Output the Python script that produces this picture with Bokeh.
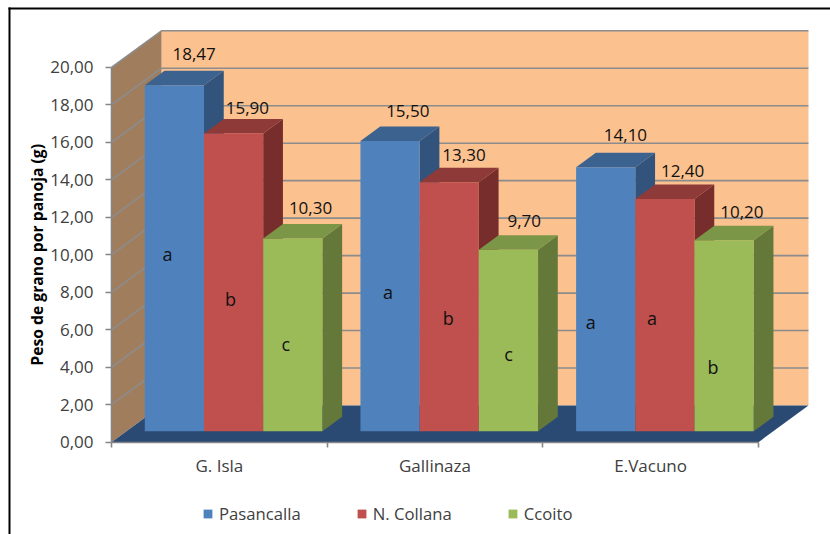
import math

from bokeh.core.properties import value
from bokeh.embed import file_html
from bokeh.models import BoxAnnotation, FixedTicker, Legend, LegendItem, LinearAxis, Range1d
from bokeh.plotting import figure
from bokeh.resources import INLINE

# Chart data
categories = ["G. Isla", "Gallinaza", "E.Vacuno"]
series_names = ["Pasancalla", "N. Collana", "Ccoito"]
y_title = "Peso de grano por panoja (g)"
pasancalla = [18.47, 15.50, 14.10]
n_collana = [15.90, 13.30, 12.40]
ccoito = [10.30, 9.70, 10.20]
pasancalla_letters = ["a", "a", "a"]
n_collana_letters = ["b", "b", "a"]
ccoito_letters = ["c", "c", "b"]
# Height (in axis units) at which each significance letter sits on its bar
pasancalla_letter_h = [9.46, 7.44, 5.83]
n_collana_letter_h = [7.06, 6.05, 6.05]
ccoito_letter_h = [4.66, 4.13, 3.43]
y_ticks = [0, 2, 4, 6, 8, 10, 12, 14, 16, 18, 20]
y_tick_labels = ["0,00", "2,00", "4,00", "6,00", "8,00", "10,00", "12,00", "14,00", "16,00", "18,00", "20,00"]

# Oblique projection: one unit of depth shifts a point right and up
DEPTH_X = 0.2318
DEPTH_Y = 1.959
BAR_FRONT = 0.295
BAR_BACK = 0.69
BAR_W = 0.2745
MARGIN = 0.086
N = len(categories)
FONT = "Open Sans"


def project(x, v, d):
    return x + d * DEPTH_X, v + d * DEPTH_Y


def face(points):
    pts = [project(*pt) for pt in points]
    return [q[0] for q in pts], [q[1] for q in pts]


# The frame fills the page; the ranges put the origin at the box's front corner
p = figure(width=830, height=534, output_backend="svg", toolbar_location=None,
           x_range=Range1d(-0.5147, 3.334), y_range=Range1d(-4.927, 23.576),
           x_axis_type=None, y_axis_type=None,
           min_border_left=0, min_border_right=0, min_border_top=0, min_border_bottom=0)
p.outline_line_color = None
p.background_fill_color = "white"
p.border_fill_color = "white"

# Walls and floor of the box
xs, ys = face([(0, 0, 1), (N, 0, 1), (N, y_ticks[-1], 1), (0, y_ticks[-1], 1)])
p.patch(xs, ys, fill_color="#FBC18E", line_color=None)
xs, ys = face([(0, 0, 0), (0, 0, 1), (0, y_ticks[-1], 1), (0, y_ticks[-1], 0)])
p.patch(xs, ys, fill_color="#A07D5D", line_color=None)
xs, ys = face([(0, 0, 0), (N, 0, 0), (N, 0, 1), (0, 0, 1)])
p.patch(xs, ys, fill_color="#2A4A73", line_color=None)

# Gridlines run along the side wall and then across the back wall
grid_x, grid_y = [], []
for t in y_ticks[1:]:
    xs, ys = face([(0, t, 0), (0, t, 1), (N, t, 1)])
    grid_x.append(xs)
    grid_y.append(ys)
p.multi_line(grid_x, grid_y, line_color="#8C8C8C", line_width=1.6)

# Bars
palettes = [("#4F81BD", "#3C6390", "#32537B"),
            ("#C0504D", "#8E3A38", "#772D2B"),
            ("#9BBB59", "#7C9647", "#64783A")]
all_values = [pasancalla, n_collana, ccoito]
all_letters = [pasancalla_letters, n_collana_letters, ccoito_letters]
all_letter_h = [pasancalla_letter_h, n_collana_letter_h, ccoito_letter_h]
legend_items = []
for s, vals in enumerate(all_values):
    front_c, side_c, top_c = palettes[s][0], palettes[s][2], palettes[s][1]
    fx, fy, sx, sy, tx, ty = [], [], [], [], [], []
    for g, v in enumerate(vals):
        x0 = g + MARGIN + s * BAR_W
        x1 = x0 + BAR_W
        a, b = face([(x0, 0, BAR_FRONT), (x1, 0, BAR_FRONT), (x1, v, BAR_FRONT), (x0, v, BAR_FRONT)])
        fx.append(a); fy.append(b)
        a, b = face([(x1, 0, BAR_FRONT), (x1, 0, BAR_BACK), (x1, v, BAR_BACK), (x1, v, BAR_FRONT)])
        sx.append(a); sy.append(b)
        a, b = face([(x0, v, BAR_FRONT), (x1, v, BAR_FRONT), (x1, v, BAR_BACK), (x0, v, BAR_BACK)])
        tx.append(a); ty.append(b)
    p.patches(sx, sy, fill_color=side_c, line_color=None)
    p.patches(tx, ty, fill_color=top_c, line_color=None)
    front = p.patches(fx, fy, fill_color=front_c, line_color=None)
    legend_items.append(LegendItem(label=series_names[s], renderers=[front]))

# Nudges (px) that keep the value labels clear of the bar tops
label_dx = [[0, -2, 0], [-6, -5, -2], [-2, -4, -2]]
label_dy = [[-17, -15, -18], [-11, -13, -14], [-16, -14, -14]]
letter_dx = [[-7, -2, -15], [-3, -1, -13], [-7, 0, -11]]

for s, vals in enumerate(all_values):
    lx, ly, lt, ox, oy = [], [], [], [], []
    mx, my, mt, mox = [], [], [], []
    for g, v in enumerate(vals):
        xc = g + MARGIN + (s + 0.5) * BAR_W
        ax, ay = project(xc, v, BAR_BACK)
        lx.append(ax); ly.append(ay)
        lt.append(f"{v:.2f}".replace(".", ","))
        ox.append(label_dx[s][g]); oy.append(label_dy[s][g])
        bx, by = project(xc, all_letter_h[s][g], BAR_FRONT)
        mx.append(bx); my.append(by)
        mt.append(all_letters[s][g])
        mox.append(letter_dx[s][g])
    p.text(lx, ly, text=lt, x_offset=ox, y_offset=oy, text_align="center", text_baseline="middle",
           text_font=value(FONT), text_font_size="17px", text_color="#111111")
    p.text(mx, my, text=mt, x_offset=mox, text_align="center", text_baseline="middle",
           text_font=value(FONT), text_font_size="18px", text_color="#111111")

# Axes are pinned to the front edge of the box
yaxis = LinearAxis(ticker=FixedTicker(ticks=y_ticks), bounds=(y_ticks[0], y_ticks[-1]), fixed_location=0,
                   major_label_overrides=dict(zip(y_ticks, y_tick_labels)),
                   major_label_text_font=FONT, major_label_text_font_size="17px",
                   major_label_text_color="#404040", major_label_standoff=12,
                   axis_line_color="#868686", axis_line_width=1.6,
                   major_tick_line_color="#868686", major_tick_line_width=1.6,
                   major_tick_in=0, major_tick_out=6,
                   minor_tick_line_color=None)
p.add_layout(yaxis, "left")

cat_ticks = [i + 0.5 for i in range(N)]
xaxis = LinearAxis(ticker=FixedTicker(ticks=cat_ticks, minor_ticks=list(range(N + 1))),
                   bounds=(0, N), fixed_location=0,
                   major_label_overrides=dict(zip(cat_ticks, categories)),
                   major_label_text_font=FONT, major_label_text_font_size="17px",
                   major_label_text_color="#404040", major_label_standoff=7,
                   axis_line_color="#868686", axis_line_width=1.6,
                   major_tick_line_color=None, major_tick_in=0, major_tick_out=0,
                   minor_tick_line_color="#868686", minor_tick_line_width=1.6,
                   minor_tick_in=0, minor_tick_out=5)
p.add_layout(xaxis, "below")

# Rotated axis title beside the tick labels
p.text([-0.3475], [y_ticks[-1] / 2], text=[y_title], angle=math.pi / 2,
       text_align="center", text_baseline="middle", text_font=value(FONT),
       text_font_style="bold", text_font_size="15.7px", text_color="black")

legend = Legend(items=legend_items, orientation="horizontal", location=(202, 9),
                glyph_width=11, glyph_height=11, label_standoff=6, spacing=55,
                padding=0, margin=0, border_line_color=None, background_fill_alpha=0,
                label_text_font=FONT, label_text_font_size="16.7px", label_text_color="#404040")
p.add_layout(legend, "center")

# Top and left edges of the chart's border
p.add_layout(BoxAnnotation(left=8, right=10, top=7, bottom=534, left_units="canvas", right_units="canvas",
                           top_units="canvas", bottom_units="canvas", fill_color="black", fill_alpha=1,
                           line_color=None, level="overlay"))
p.add_layout(BoxAnnotation(left=8, right=830, top=7, bottom=9, left_units="canvas", right_units="canvas",
                           top_units="canvas", bottom_units="canvas", fill_color="black", fill_alpha=1,
                           line_color=None, level="overlay"))

open("out.html", "w").write(file_html(p, INLINE))
